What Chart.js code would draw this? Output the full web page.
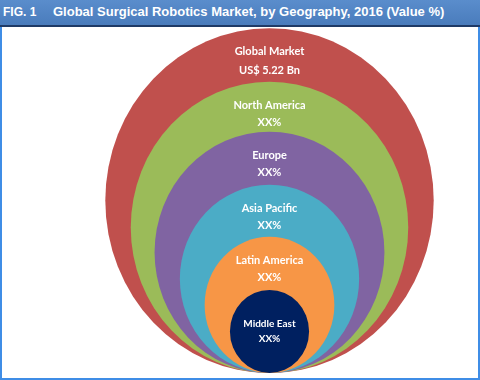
<!DOCTYPE html>
<html>
<head>
<meta charset="utf-8">
<script src="https://cdn.jsdelivr.net/npm/chart.js"></script>
<style>
  html, body { margin: 0; padding: 0; background: #fff; }
  #frame { position: absolute; left: 0; top: 0; width: 480px; height: 380px; background: #fff; overflow: hidden; }
  #header { position: absolute; left: 0; top: 0; width: 480px; height: 25px;
            background: linear-gradient(#5a8dcc, #4a7cbc); border-bottom: 2px solid #1f3a66; }
  #fig { position: absolute; left: 3px; top: 5px; font: bold 12px "Liberation Sans", Arial, sans-serif; color: #fff; }
  #title { position: absolute; left: 53px; top: 4px; font: bold 13px "Liberation Sans", Arial, sans-serif; color: #fff; white-space: nowrap; }
  .bl { position: absolute; left: 0; top: 27px; width: 2px; height: 353px; background: #3f8de6; }
  .br { position: absolute; right: 0; top: 27px; width: 2px; height: 353px; background: #3f8de6; }
  .bb { position: absolute; left: 0; bottom: 0; width: 480px; height: 2px; background: #3f8de6; }
  #wrap { position: absolute; left: 2px; top: 27px; width: 476px; height: 350px; }
</style>
</head>
<body>
<div id="frame">
  <div id="header"><span id="fig">FIG. 1</span><span id="title">Global Surgical Robotics Market, by Geography, 2016 (Value %)</span></div>
  <div id="wrap"><canvas id="c" width="476" height="350"></canvas></div>
  <div class="bl"></div><div class="br"></div><div class="bb"></div>
</div>
<script>
// ---- data ----
const regions = ["Global Market", "North America", "Europe", "Asia Pacific", "Latin America", "Middle East"];
const valueLabels = ["US$ 5.22 Bn", "XX%", "XX%", "XX%", "XX%", "XX%"];
const ringSizes = [100, 84.5, 70, 54.6, 39.5, 24.1];   // relative circle radius (outer = 100)
const ringColors = ["#c0504d", "#9bbb59", "#8064a2", "#4bacc6", "#f79646", "#002060"];

// ---- layout ----
const UNIT_PX = 1.642;      // pixels per size unit
const CENTER_X = 267.5;     // canvas px
const BASE_Y = 346;         // canvas px of tangent line
const STRETCH = 1.05;       // slight vertical elongation of the shapes
const CW = 476;

function pxRadius(chart, i) {
  const xs = chart.scales && chart.scales.x;
  if (!xs) return 0;
  const v = ringSizes[i] || 0;
  return Math.abs(xs.getPixelForValue(v) - xs.getPixelForValue(0));
}

const stretchPlugin = {
  id: 'stretch',
  beforeDatasetsDraw(chart) {
    const ctx = chart.ctx;
    const b = chart.scales.y.getPixelForValue(0);
    ctx.save();
    ctx.translate(0, b);
    ctx.scale(1, STRETCH);
    ctx.translate(0, -b);
  },
  afterDatasetsDraw(chart) { chart.ctx.restore(); }
};

const labelPlugin = {
  id: 'labels',
  afterDraw(chart) {
    const ctx = chart.ctx;
    const cx = chart.scales.x.getPixelForValue(0);
    const b = chart.scales.y.getPixelForValue(0);
    ctx.save();
    ctx.fillStyle = '#ffffff';
    ctx.textAlign = 'center';
    ctx.textBaseline = 'middle';
    regions.forEach((name, i) => {
      const r = pxRadius(chart, i) * STRETCH;
      const top = b - 2 * r;
      const last = i === regions.length - 1;
      const gap = i === 0 ? 19 : (last ? 15 : 17);
      const y1 = last ? (b - r - gap / 2) : (top + 23.5);
      ctx.font = (last ? 'bold 10px' : 'bold 11px') + ' Lato, "Open Sans", sans-serif';
      ctx.fillText(name, cx, y1);
      ctx.fillText(valueLabels[i], cx, y1 + gap);
    });
    ctx.restore();
  }
};

const chart = new Chart(document.getElementById('c'), {
  type: 'bubble',
  data: {
    datasets: [{
      data: ringSizes.map(s => ({ x: 0, y: s })),
      backgroundColor: ringColors,
      borderWidth: 0,
      hoverRadius: 0,
      clip: false
    }]
  },
  options: {
    responsive: false,
    animation: false,
    events: [],
    layout: { autoPadding: false, padding: { left: 0, right: 0, top: 0, bottom: 350 - BASE_Y } },
    plugins: { legend: { display: false }, tooltip: { enabled: false } },
    scales: {
      x: { type: 'linear', display: false, min: -CENTER_X / UNIT_PX, max: (CW - CENTER_X) / UNIT_PX },
      y: { type: 'linear', display: false, min: 0, max: BASE_Y / UNIT_PX }
    }
  },
  plugins: [stretchPlugin, labelPlugin]
});
// bubble radius (pixels) taken from the x scale, so each circle is sized in data units
chart.data.datasets[0].data.forEach((d, i) => { d.r = pxRadius(chart, i); });
chart.update();
</script>
</body>
</html>
